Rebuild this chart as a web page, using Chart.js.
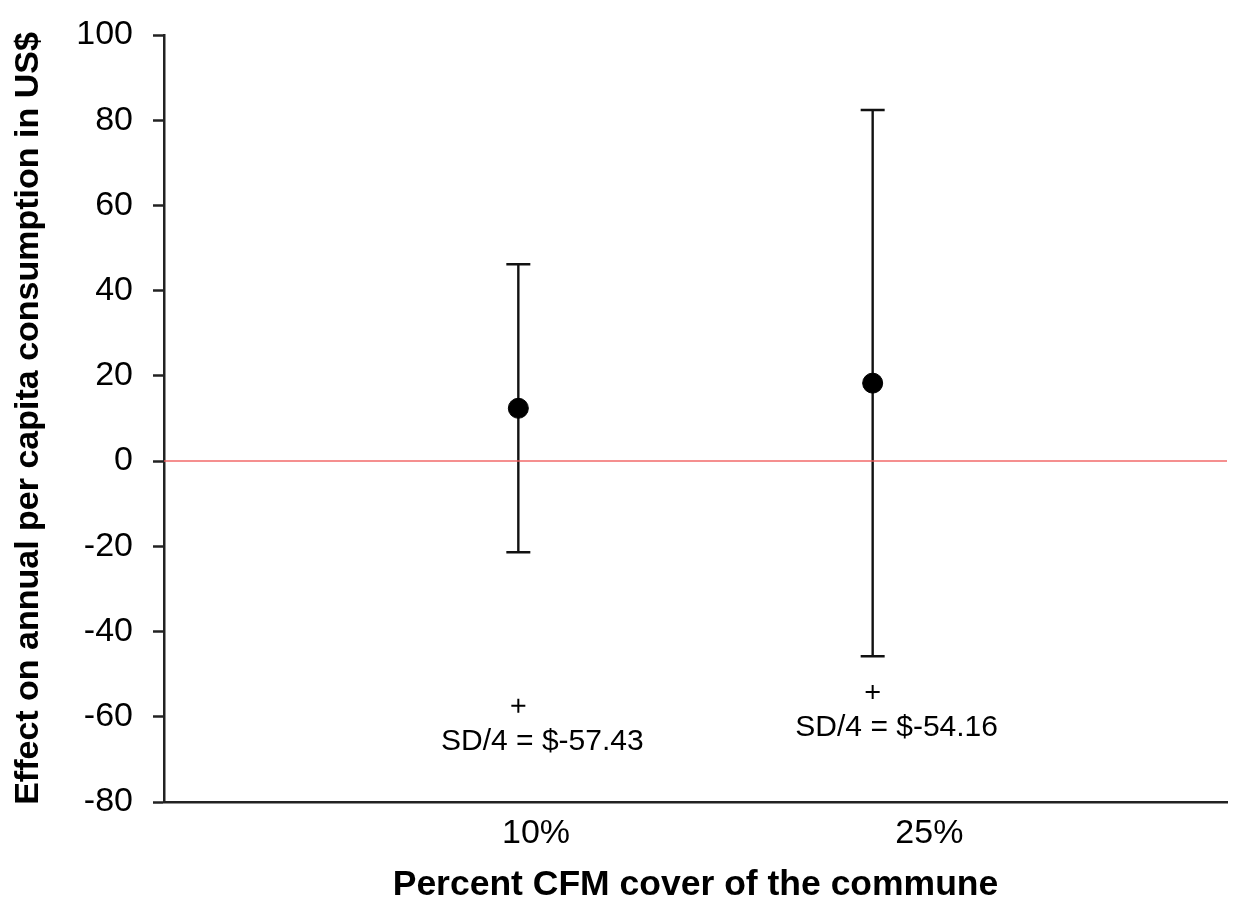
<!DOCTYPE html>
<html>
<head>
<meta charset="utf-8">
<title>Effect on annual per capita consumption</title>
<script src="https://cdn.jsdelivr.net/npm/chart.js@4.4.1/dist/chart.umd.min.js"></script>
<style>
  html, body { margin: 0; padding: 0; background: #fff; }
  #wrap { width: 1238px; height: 905px; }
</style>
</head>
<body>
<div id="wrap"><canvas id="chart"></canvas></div>
<script>
// Values
const categories = ["10%", "25%"];
const xValues = [1, 2];
const tickValues = [1.05, 2.16];
const means = [12.4, 18.3];
const lowerCI = [-21.4, -45.8];
const upperCI = [46.2, 82.4];
const sdQuarter = [-57.43, -54.16];
const yTicks = [-80, -60, -40, -20, 0, 20, 40, 60, 80, 100];

const FONT = "'Liberation Sans', Arial, sans-serif";

// Draws the vertical whiskers with caps around each mean
const errorBarPlugin = {
  id: "errorBars",
  beforeDatasetsDraw(chart) {
    const { ctx, scales: { x, y } } = chart;
    ctx.save();
    ctx.strokeStyle = "#111";
    ctx.lineWidth = 2.4;
    xValues.forEach((xv, i) => {
      const px = x.getPixelForValue(xv);
      const top = y.getPixelForValue(upperCI[i]);
      const bot = y.getPixelForValue(lowerCI[i]);
      ctx.beginPath();
      ctx.moveTo(px, top);
      ctx.lineTo(px, bot);
      ctx.moveTo(px - 12, top);
      ctx.lineTo(px + 12, top);
      ctx.moveTo(px - 12, bot);
      ctx.lineTo(px + 12, bot);
      ctx.stroke();
    });
    ctx.restore();
  }
};

// Text under each "+" marker
const sdLabelPlugin = {
  id: "sdLabels",
  afterDatasetsDraw(chart) {
    const { ctx } = chart;
    const meta = chart.getDatasetMeta(2);
    ctx.save();
    ctx.fillStyle = "#000";
    ctx.font = "30px " + FONT;
    ctx.textAlign = "center";
    ctx.textBaseline = "middle";
    meta.data.forEach((pt, i) => {
      ctx.fillText(`SD/4 = $${sdQuarter[i].toFixed(2)}`, pt.x + 24, pt.y + 36);
    });
    ctx.restore();
  }
};

new Chart(document.getElementById("chart"), {
  type: "scatter",
  data: {
    datasets: [
      {
        // zero reference line
        type: "line",
        data: [{ x: 0, y: 0 }, { x: 3, y: 0 }],
        borderColor: "rgba(240, 90, 90, 0.9)",
        borderWidth: 1.5,
        pointRadius: 0,
        order: 3
      },
      {
        label: "Effect",
        data: xValues.map((xv, i) => ({ x: xv, y: means[i] })),
        backgroundColor: "#000",
        borderColor: "#000",
        pointRadius: 10,
        pointHoverRadius: 10,
        order: 1
      },
      {
        label: "SD/4",
        data: xValues.map((xv, i) => ({ x: xv, y: sdQuarter[i] })),
        pointStyle: "cross",
        borderColor: "#000",
        borderWidth: 2,
        pointRadius: 7,
        order: 2
      }
    ]
  },
  options: {
    responsive: true,
    maintainAspectRatio: false,
    animation: false,
    layout: { padding: { top: 35, right: 6, bottom: 0, left: 0 } },
    plugins: {
      legend: { display: false },
      tooltip: { enabled: false }
    },
    scales: {
      x: {
        type: "linear",
        min: 0,
        max: 3,
        grid: { display: false, drawTicks: false },
        border: { display: true, color: "#222", width: 2.5 },
        afterBuildTicks(scale) {
          scale.ticks = tickValues.map(v => ({ value: v }));
        },
        afterFit(scale) {
          scale.height = 103;
          scale.paddingLeft = 0;
          scale.paddingRight = 0;
        },
        ticks: {
          color: "#000",
          padding: 11,
          maxRotation: 0,
          autoSkip: false,
          font: { family: FONT, size: 34 },
          callback: (v, idx) => categories[idx]
        },
        title: {
          display: true,
          text: "Percent CFM cover of the commune",
          color: "#000",
          font: { family: FONT, size: 35.5, weight: "bold", lineHeight: 1 },
          padding: { top: 0, bottom: 2 }
        }
      },
      y: {
        min: -80,
        max: 100,
        afterBuildTicks(scale) {
          scale.ticks = yTicks.map(v => ({ value: v }));
        },
        afterFit(scale) {
          scale.width = 164;
          scale.paddingTop = 0;
          scale.paddingBottom = 0;
        },
        grid: {
          drawOnChartArea: false,
          drawTicks: true,
          tickLength: 11,
          tickWidth: 2.5,
          tickColor: "#222"
        },
        border: { display: true, color: "#222", width: 2.5 },
        ticks: {
          color: "#000",
          padding: 20,
          font: { family: FONT, size: 34 }
        },
        title: {
          display: true,
          text: "Effect on annual per capita consumption in US$",
          color: "#000",
          font: { family: FONT, size: 34, weight: "bold", lineHeight: 1.2 },
          padding: { top: 8, bottom: 0 }
        }
      }
    }
  },
  plugins: [errorBarPlugin, sdLabelPlugin]
});
</script>
</body>
</html>
